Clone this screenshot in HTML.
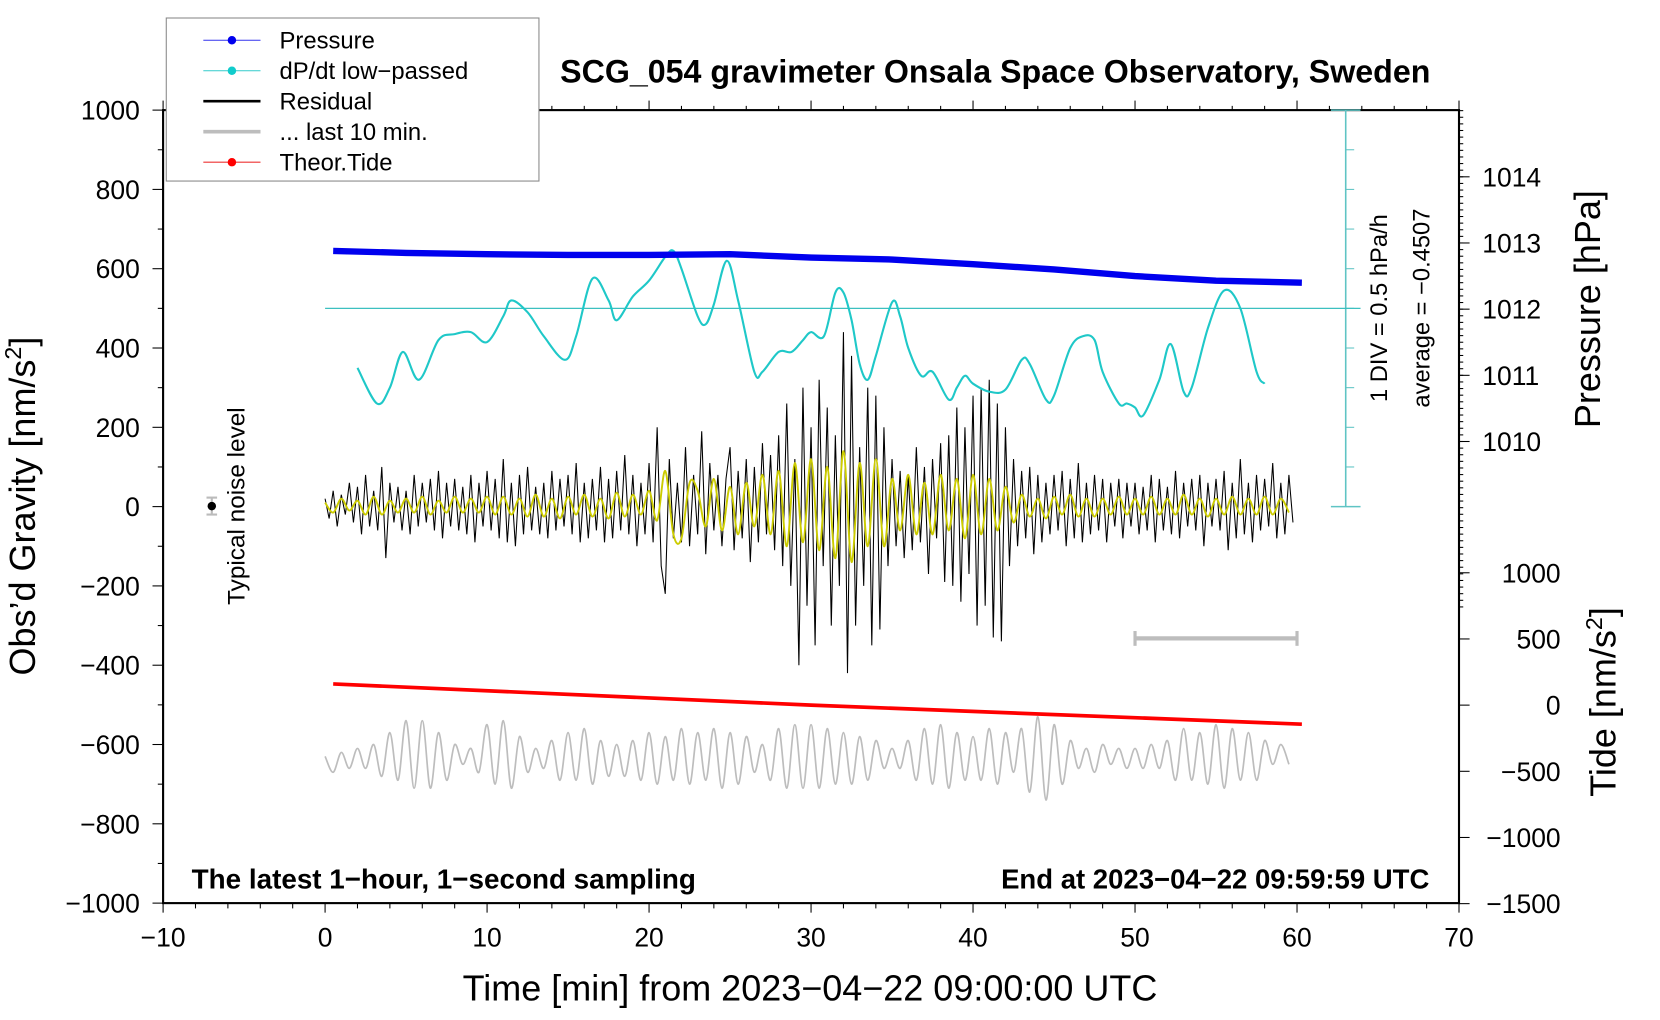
<!DOCTYPE html>
<html><head><meta charset="utf-8"><style>
html,body{margin:0;padding:0;background:#fff;}
svg{display:block;font-family:"Liberation Sans",Arial,sans-serif;}
</style></head><body>
<svg id="chart" width="1660" height="1020" viewBox="0 0 1567.8 963.4" xmlns="http://www.w3.org/2000/svg">
<g id="frame"></g>
<g id="marks"></g>
<g id="labels"></g>
</svg>
<script>
// ---- data ----
const xTicks = [-10,0,10,20,30,40,50,60,70];
const yTicks = [-1000,-800,-600,-400,-200,0,200,400,600,800,1000];
const pTicks = [1010,1011,1012,1013,1014];
const tideTicks = [-1500,-1000,-500,0,500,1000];
const pressureT = [0.5,5,10,15,20,25,30,35,40,45,50,55,60.3];
const pressureV = [1012.88,1012.85,1012.83,1012.82,1012.82,1012.83,1012.78,1012.75,1012.68,1012.6,1012.5,1012.43,1012.4];
const cyanT = [2,3.2,4,4.8,5.8,7,8,9,10,11,11.5,12.5,13.5,14.8,15.5,16.5,17.5,18,19,20,21,21.5,22,23,23.5,24,24.8,25.5,26.5,27,28,28.8,29.5,30,30.8,31.5,32,32.5,33,33.5,34,35,35.5,36,36.8,37.5,38.5,39,39.5,40,41,42,43,43.5,44.5,45,46,46.8,47.5,48,49,49.5,50,50.5,51.5,52.2,53,53.5,54.5,55.5,56.5,57.5,58];
const cyanV = [350,260,300,390,320,420,435,440,415,480,520,490,430,370,430,575,520,470,530,570,630,645,600,480,460,510,620,520,340,340,390,390,420,440,430,540,540,470,360,320,380,515,480,400,330,340,270,300,330,310,290,295,370,360,270,280,400,430,420,340,260,260,250,230,320,410,290,300,450,545,500,340,310];
const residual = [20,-30,40,-50,30,-20,60,-40,50,-70,80,-50,40,-60,100,-130,60,-40,50,-60,
40,-70,80,-50,60,-40,70,-60,90,-80,60,-50,70,-60,50,-70,80,-90,60,-50,
90,-60,70,-80,120,-90,60,-100,80,-70,100,-60,50,-70,60,-80,90,-60,70,-50,
80,-70,110,-90,60,-80,70,-60,100,-90,70,-80,90,-60,130,-70,80,-100,60,-70,
110,-90,200,-150,-220,120,-80,60,-90,150,-100,80,-70,190,-120,110,-60,80,-100,70,
150,-110,90,-80,120,-140,100,-90,160,-70,130,-110,180,-150,260,-200,120,-400,300,-250,
200,-350,320,-150,250,-300,180,-200,440,-420,380,-300,150,-200,300,-350,280,-310,200,-150,
120,-100,90,-130,80,-110,150,-90,100,-170,120,-80,160,-190,180,-200,250,-240,200,-170,
280,-300,300,-250,320,-330,260,-340,200,-150,120,-100,90,-80,100,-120,80,-90,60,-70,
80,-60,90,-100,70,-80,110,-90,60,-70,80,-60,70,-90,60,-50,70,-80,60,-50,
60,-70,50,-60,80,-90,70,-60,50,-70,90,-80,60,-50,70,-60,80,-100,60,-50,
70,-60,90,-110,60,-80,120,-70,60,-90,80,-60,70,-50,110,-80,60,-70,80,-40];
const residualStep = 0.25;
const filtered = [10,-15,20,-10,15,-20,25,-20,15,-15,20,-15,25,-20,15,-15,25,-15,20,-15,
25,-20,25,-20,20,-25,30,-25,20,-30,25,-20,30,-25,20,-30,35,-25,30,-20,
40,-35,90,-70,-80,60,40,-50,70,-60,50,-70,60,-50,80,-70,90,-100,110,-90,
120,-110,100,-130,140,-140,110,-100,120,-100,70,-60,80,-70,60,-70,80,-60,70,-80,
80,-70,70,-60,50,-40,30,-25,20,-30,25,-20,30,-25,20,-25,20,-20,25,-20,
20,-20,25,-20,20,-20,30,-20,20,-25,20,-20,25,-20,20,-20,25,-20,20,-15];
const filteredStep = 0.5;
const lastTen = [0,-40,10,-30,20,-30,30,-50,60,-60,90,-80,90,-80,60,-60,30,-20,20,-40,
80,-70,90,-80,50,-40,20,-30,40,-60,60,-60,70,-70,40,-50,30,-50,40,-60,
60,-70,50,-60,70,-70,60,-60,70,-80,60,-70,50,-40,30,-60,70,-80,80,-80,
80,-80,70,-70,60,-70,50,-60,40,-30,20,-30,40,-60,70,-70,80,-80,60,-60,
50,-60,70,-70,60,-40,70,-90,100,-110,80,-70,40,-30,20,-40,30,-20,20,-30,
20,-30,30,-30,40,-60,70,-60,60,-70,80,-80,70,-60,60,-60,40,-20,30,-20];
const lastTenStep = 0.5;
const lastTenBase = -630;
const tideT = [0.5,30,60.3];
const tideV = [160,0,-144];

// ---- scales ----
const L=154,R=1378,T=104,B=853;
const X = t => L + (t+10)/80*(R-L);
const Y = g => B - (g+1000)/2000*(B-T);
const YP = p => 417 - (p-1010)*62.5;
const YT = v => 666 - v*0.125;
const NS='http://www.w3.org/2000/svg';
function mk(tag, parent, attrs){const e=document.createElementNS(NS,tag);for(const k in attrs)e.setAttribute(k,attrs[k]);parent.appendChild(e);return e;}
const frame=document.getElementById('frame'), marks=document.getElementById('marks'), labels=document.getElementById('labels');
function txt(parent,x,y,s,size,anchor,extra){const e=mk('text',parent,Object.assign({x:x,y:y,'font-size':size,'text-anchor':anchor||'middle',fill:'#000'},extra||{}));e.textContent=s;return e;}
function smooth(p){let d='M'+p[0][0]+','+p[0][1];for(let i=0;i<p.length-1;i++){const p0=p[Math.max(0,i-1)],p1=p[i],p2=p[i+1],p3=p[Math.min(p.length-1,i+2)];
 const c1x=p1[0]+(p2[0]-p0[0])/6,c1y=p1[1]+(p2[1]-p0[1])/6,c2x=p2[0]-(p3[0]-p1[0])/6,c2y=p2[1]-(p3[1]-p1[1])/6;
 d+=' C'+c1x.toFixed(1)+','+c1y.toFixed(1)+' '+c2x.toFixed(1)+','+c2y.toFixed(1)+' '+p2[0].toFixed(1)+','+p2[1].toFixed(1);}return d;}

// ---- frame ----
let el=mk('rect',frame,{x:L,y:T,width:R-L,height:B-T,fill:'none',stroke:'#000','stroke-width':2});


for(let t=-10;t<=70;t+=2){const maj=(t%10===0);mk('line',frame,{x1:X(t),x2:X(t),y1:B,y2:B+(maj?9:5),stroke:'#000','stroke-width':1});mk('line',frame,{x1:X(t),x2:X(t),y1:T,y2:T-(maj?9:4),stroke:'#000','stroke-width':1});}
xTicks.forEach(t=>{el=txt(labels,X(t),B+41,(t<0?'\u2212'+(-t):String(t)),25);});
for(let g=-1000;g<=1000;g+=100){mk('line',frame,{x1:L,x2:L-(g%200===0?10:5),y1:Y(g),y2:Y(g),stroke:'#000','stroke-width':1});}
yTicks.forEach(g=>{el=txt(labels,L-22,Y(g)+9,(g<0?'\u2212'+(-g):String(g)),25,'end');});
for(let p=1007.5;p<=1015.8;p+=0.1){const y=YP(p);if(y<T||y>B)continue;mk('line',frame,{x1:R,x2:R+4,y1:y,y2:y,stroke:'#000','stroke-width':1});}
pTicks.forEach(p=>{mk('line',frame,{x1:R,x2:R+10,y1:YP(p),y2:YP(p),stroke:'#000','stroke-width':1});el=txt(labels,R+22,YP(p)+9,String(p),25,'start');});
tideTicks.forEach(v=>{mk('line',frame,{x1:R,x2:R+10,y1:YT(v),y2:YT(v),stroke:'#000','stroke-width':1});el=txt(labels,R+96,YT(v)+9,(v<0?'\u2212'+(-v):String(v)),25,'end');});
mk('line',frame,{x1:1271,x2:1271,y1:T,y2:Y(0),stroke:'#5fc4c4','stroke-width':1.5});
mk('line',frame,{x1:1257,x2:1285,y1:T,y2:T,stroke:'#5fc4c4','stroke-width':1.5});
mk('line',frame,{x1:1257,x2:1285,y1:Y(0),y2:Y(0),stroke:'#5fc4c4','stroke-width':1.5});
for(let g=100;g<1000;g+=100){mk('line',frame,{x1:1271,x2:1279,y1:Y(g),y2:Y(g),stroke:'#5fc4c4','stroke-width':1});}
el=mk('line',frame,{x1:X(0),x2:1285,y1:Y(500),y2:Y(500),stroke:'#3cc0c0','stroke-width':1.2});



// ---- series ----
let pts=lastTen.map((v,i)=>[X(i*lastTenStep),Y(lastTenBase+v)]);
el=mk('path',marks,{d:smooth(pts),fill:'none',stroke:'#bdbdbd','stroke-width':1.6});


pts=residual.map((v,i)=>X(i*residualStep)+','+Y(v));
el=mk('polyline',marks,{points:pts.join(' '),fill:'none',stroke:'#000','stroke-width':1});


pts=filtered.map((v,i)=>[X(i*filteredStep),Y(v)]);
el=mk('path',marks,{d:smooth(pts),fill:'none',stroke:'#cccc00','stroke-width':1.8});


pts=cyanT.map((t,i)=>[X(t),Y(cyanV[i])]);
el=mk('path',marks,{d:smooth(pts),fill:'none',stroke:'#1fc8c8','stroke-width':2});


pts=pressureT.map((t,i)=>X(t)+','+YP(pressureV[i]));
el=mk('polyline',marks,{points:pts.join(' '),fill:'none',stroke:'#0000ee','stroke-width':6,'stroke-linejoin':'round'});


pts=tideT.map((t,i)=>X(t)+','+YT(tideV[i]));
el=mk('polyline',marks,{points:pts.join(' '),fill:'none',stroke:'#ff0000','stroke-width':3.5});


mk('line',marks,{x1:X(50),x2:X(60),y1:603,y2:603,stroke:'#bdbdbd','stroke-width':4});
mk('line',marks,{x1:X(50),x2:X(50),y1:596,y2:610,stroke:'#bdbdbd','stroke-width':3});
mk('line',marks,{x1:X(60),x2:X(60),y1:596,y2:610,stroke:'#bdbdbd','stroke-width':3});
mk('line',marks,{x1:200,x2:200,y1:470,y2:486,stroke:'#bbb','stroke-width':2});
mk('line',marks,{x1:195,x2:205,y1:470,y2:470,stroke:'#bbb','stroke-width':2});
mk('line',marks,{x1:195,x2:205,y1:486,y2:486,stroke:'#bbb','stroke-width':2});
el=mk('circle',marks,{cx:200,cy:478,r:4,fill:'#000'});



// ---- labels ----
el=txt(labels,940,78,'SCG_054 gravimeter Onsala Space Observatory, Sweden',30.4,'middle',{'font-weight':'bold'});


el=txt(labels,765,945,'Time [min] from 2023\u221204\u221222 09:00:00 UTC',34);


el=mk('text',labels,{x:0,y:0,'font-size':34,'text-anchor':'middle',transform:'translate(33,478) rotate(-90)'});
el.innerHTML='Obs\u2019d Gravity [nm/s<tspan dy="-13" font-size="22">2</tspan><tspan dy="13">]</tspan>';


el=mk('text',labels,{x:0,y:0,'font-size':34,'text-anchor':'middle',transform:'translate(1511,292) rotate(-90)'});
el.textContent='Pressure [hPa]';


el=mk('text',labels,{x:0,y:0,'font-size':34,'text-anchor':'middle',transform:'translate(1526,663) rotate(-90)'});
el.innerHTML='Tide [nm/s<tspan dy="-13" font-size="22">2</tspan><tspan dy="13">]</tspan>';


el=mk('text',labels,{x:0,y:0,'font-size':23,'text-anchor':'middle',transform:'translate(231,478) rotate(-90)'});
el.textContent='Typical noise level';


el=mk('text',labels,{x:0,y:0,'font-size':22.4,'text-anchor':'middle',transform:'translate(1310,291) rotate(-90)'});
el.textContent='1 DIV = 0.5 hPa/h';


el=mk('text',labels,{x:0,y:0,'font-size':22.4,'text-anchor':'middle',transform:'translate(1350,291) rotate(-90)'});
el.textContent='average = \u22120.4507';


el=txt(labels,181,839,'The latest 1\u2212hour, 1\u2212second sampling',26.3,'start',{'font-weight':'bold'});


el=txt(labels,1350,839,'End at 2023\u221204\u221222 09:59:59 UTC',26,'end',{'font-weight':'bold'});



const lg=mk('g',labels,{});


mk('rect',lg,{x:157,y:17,width:352,height:154,fill:'#fff',stroke:'#888','stroke-width':1});
const legNames=['Pressure','dP/dt low\u2212passed','Residual','... last 10 min.','Theor.Tide'];
const legCols=['#3333ee','#33cccc','#000','#bdbdbd','#ee3333'];
const legDot=['#0000ee','#11cccc',null,null,'#ff0000'];
const legW=[1,1,2.5,3.5,1];
legNames.forEach((n,i)=>{const y=38+i*28.8;
 const g=mk('g',lg,{});
 
 
 mk('line',g,{x1:192,x2:246,y1:y,y2:y,stroke:legCols[i],'stroke-width':legW[i]});
 if(legDot[i])mk('circle',g,{cx:219,cy:y,r:4,fill:legDot[i]});
 txt(g,264,y+8,n,22.5,'start');
});
</script>
</body></html>
